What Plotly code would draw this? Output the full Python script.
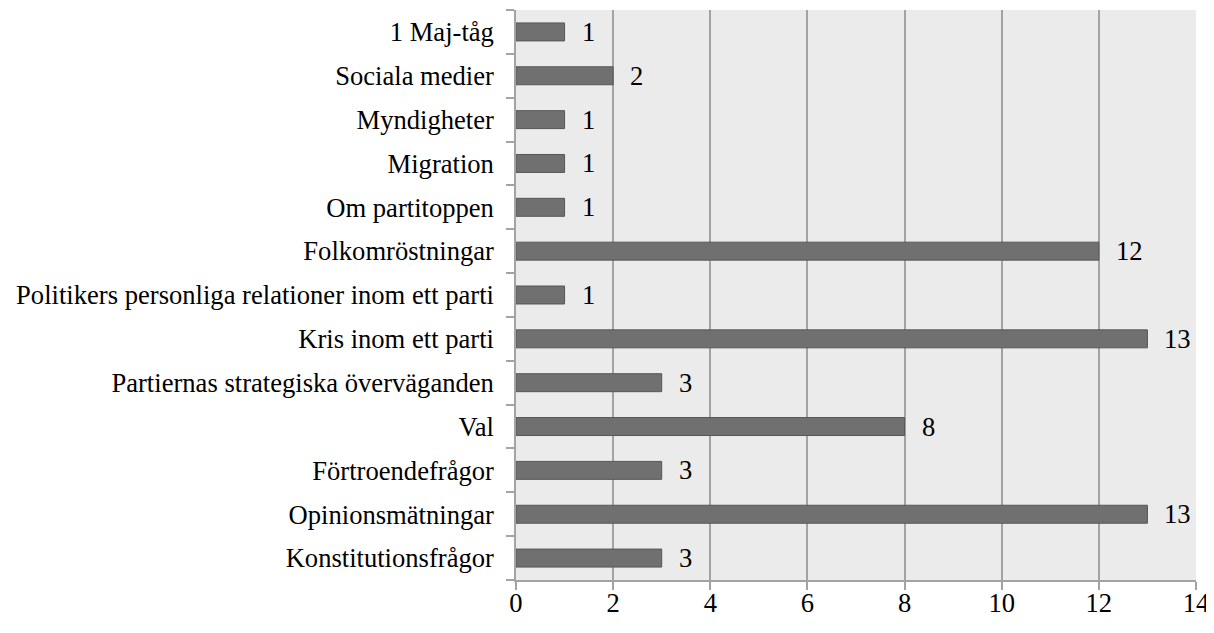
import plotly.graph_objects as go

categories = ["Konstitutionsfrågor", "Opinionsmätningar", "Förtroendefrågor", "Val",
              "Partiernas strategiska överväganden", "Kris inom ett parti",
              "Politikers personliga relationer inom ett parti", "Folkomröstningar",
              "Om partitoppen", "Migration", "Myndigheter", "Sociala medier", "1 Maj-tåg"]
values = [3, 13, 3, 8, 3, 13, 1, 12, 1, 1, 1, 2, 1]
x_ticks = [0, 2, 4, 6, 8, 10, 12, 14]

FONT = "Liberation Serif"
FS = 26.6

fig = go.Figure()
fig.add_trace(go.Bar(
    y=categories, x=values, orientation="h",
    marker=dict(color="#707070", line=dict(color="#575757", width=1)),
    width=0.41,
))
for c, v in zip(categories, values):
    fig.add_annotation(x=v, y=c, text=str(v), showarrow=False, xanchor="left",
                       xshift=15, font=dict(family=FONT, size=FS, color="#000000"))

fig.update_layout(
    width=1206, height=625,
    margin=dict(l=508, r=18, t=2, b=53),
    paper_bgcolor="white", plot_bgcolor="#ebebeb",
    font=dict(family=FONT, size=FS, color="#000000"),
    showlegend=False,
)
fig.update_xaxes(range=[0, 14], tickvals=x_ticks, showgrid=True, gridcolor="#a3a3a3",
                 gridwidth=1.5, showline=True, linecolor="#a3a3a3", linewidth=1.5,
                 ticks="outside", ticklen=8, tickcolor="#a3a3a3", tickwidth=1.5,
                 zeroline=False, fixedrange=True, ticklabelstandoff=-10)
fig.update_yaxes(type="category", categoryorder="array", categoryarray=categories,
                 showgrid=False, showline=True, linecolor="#a3a3a3", linewidth=1.5,
                 ticks="outside", ticklen=8, tickcolor="#a3a3a3", tickwidth=1.5,
                 tickson="boundaries", ticklabelstandoff=15, fixedrange=True)

fig.write_html("out.html")
